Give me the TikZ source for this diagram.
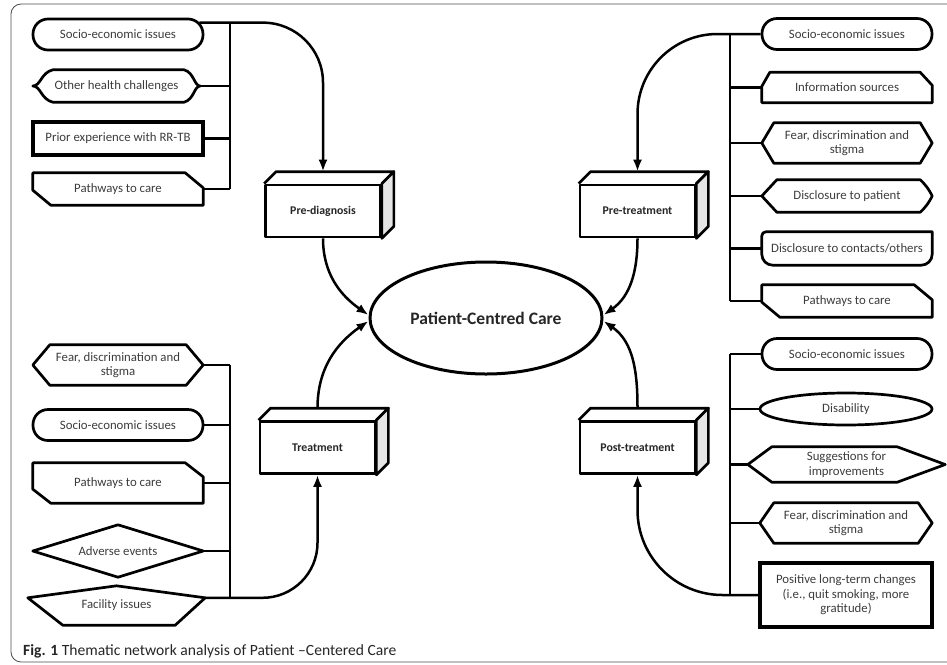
\documentclass[tikz,border=0pt]{standalone}
\usepackage{fontspec}
\setmainfont{Carlito}
\usetikzlibrary{calc,shapes.geometric,arrows.meta}

\definecolor{txtc}{HTML}{3C3C3C}
\pgfdeclareradialshading{glow}{\pgfpoint{0bp}{0bp}}{color(0bp)=(white); color(38bp)=(white); color(50bp)=(gray!70)}

% outlines drawn round plain label nodes
\newcommand{\hexout}[3]{\draw[box] (#1.west) -- ($(#1.north west)+(#2,0)$) -- ($(#1.north east)+(-#3,0)$) -- (#1.east) -- ($(#1.south east)+(-#3,0)$) -- ($(#1.south west)+(#2,0)$) -- cycle;}
\newcommand{\cutout}[3]{\draw[box] (#1.north west) -- ($(#1.north east)+(-#2,0)$) -- ($(#1.north east)+(0,#3)$) -- (#1.south east) -- ($(#1.south west)+(#2,0)$) -- ($(#1.south west)+(0,-#3)$) -- cycle;}
\newcommand{\depth}[1]{%
  \draw[box] (#1.north west) -- ++(12,-12) -- ($(#1.north east)+(12,-12)$) -- (#1.north east);
  \draw[box, fill=gray!20] (#1.north east) -- ++(12,-12) -- ($(#1.south east)+(12,-12)$) -- (#1.south east) -- cycle;}

\begin{document}
\begin{tikzpicture}[x=1pt, y=-1pt,
    box/.style={draw=black, line width=2.7pt, line join=round},
    conn/.style={line width=2.5pt},
    arr/.style={conn, -{Latex[length=12pt,width=9pt]}},
    lbl/.style={minimum width=170, minimum height=32, inner sep=0pt, align=center,
      text=txtc, font=\fontsize{12.8}{14.5}\selectfont},
    stadium/.style={box, rounded corners=15pt, minimum height=31},
    thickbox/.style={draw=black, line width=3.4pt},
    stage/.style={box, fill=white, minimum width=115, minimum height=52, inner sep=0pt,
      text=black!85, font=\bfseries\fontsize{11.8}{13}\selectfont},
    core/.style={ellipse, draw=black, line width=3pt, shade, shading=glow,
      minimum width=232, minimum height=112, text=black!85,
      font=\bfseries\fontsize{17.5}{20}\selectfont}]
  \useasboundingbox (0,0) rectangle (947,664);
  \clip (0,0) rectangle (947,664);
  \draw[draw=black!70, line width=0.8pt, rounded corners=10pt] (11,4) rectangle (965,662);

  \coordinate (busL) at (230,0);
  \coordinate (busR) at (730,0);

  % centre
  \node[core] (pcc) at (486,318) {Patient-Centred Care};

  % pre-diagnosis
  \node[lbl, stadium] (lsoc) at (118,34.5) {Socio-economic issues};
  \node[lbl, minimum width=167] (lhea) at (116.5,86) {Other health challenges};
  \node[lbl, thickbox, minimum height=33] (lpri) at (118,138.5) {Prior experience with RR-TB};
  \node[lbl] (lpa1) at (118,189) {Pathways to care};
  \node[stage] (pre) at (323,211) {Pre-diagnosis};
  \depth{pre}
  \draw[box] ($(lhea.north west)+(20,0)$) -- ($(lhea.north east)+(-16,0)$)
    .. controls ($(lhea.north east)+(-6,3)$) and ($(lhea.east)+(-6,0)$) .. (lhea.east)
    .. controls ($(lhea.east)+(-6,0)$) and ($(lhea.south east)+(-6,-3)$) .. ($(lhea.south east)+(-16,0)$)
    -- ($(lhea.south west)+(20,0)$)
    .. controls ($(lhea.south west)+(8,-3)$) and ($(lhea.west)+(8,0)$) .. (lhea.west)
    .. controls ($(lhea.west)+(8,0)$) and ($(lhea.north west)+(8,3)$) .. ($(lhea.north west)+(20,0)$) -- cycle;
  \cutout{lpa1}{18}{15}
  \coordinate (lsocR) at ($(lsoc.north east)+(-5,5)$);
  \coordinate (pretop) at ($(pre.north)+(0,-12)$);
  \draw[conn] (lsocR -| busL) -- (lpa1.east -| busL);
  \draw[conn] (lhea.east) -- (lhea.east -| busL);
  \draw[conn] (lpri.east) -- (lpri.east -| busL);
  \draw[conn] (lpa1.east) -- (lpa1.east -| busL);
  \draw[arr, rounded corners=60pt] (lsocR) -| (pretop);
  \draw[arr] (pre.south) to[out=-90,in=145] ($(pcc.west)+(0,-3)$);

  % treatment
  \node[lbl, minimum height=40] (lfea) at (118,365) {Fear, discrimination and\\stigma};
  \node[lbl, stadium] (lsoc2) at (118,425) {Socio-economic issues};
  \node[lbl, minimum height=40] (lpa2) at (118,483) {Pathways to care};
  \node[lbl, minimum height=52] (lade) at (118,551) {Adverse events};
  \node[lbl, minimum width=177, minimum height=39] (lfac) at (116.5,605.5) {Facility issues};
  \node[stage] (trt) at (317.5,447.5) {Treatment};
  \depth{trt}
  \hexout{lfea}{17}{17}
  \cutout{lpa2}{18}{14}
  \draw[box] (lade.west) -- (lade.north) -- (lade.east) -- (lade.south) -- cycle;
  \draw[box] (lfac.north) -- ($(lfac.north east)+(0,12)$) -- ($(lfac.south east)+(-30,0)$)
    -- ($(lfac.south west)+(35,0)$) -- ($(lfac.north west)+(0,12)$) -- cycle;
  \coordinate (lfacR) at ($(lfac.north east)+(0,12)$);
  \coordinate (trttop) at ($(trt.north)+(0,-12)$);
  \draw[conn] (lfea.east -| busL) -- (lfacR -| busL);
  \draw[conn] (lfea.east) -- (lfea.east -| busL);
  \draw[conn] (lsoc2.east) -- (lsoc2.east -| busL);
  \draw[conn] (lpa2.east) -- (lpa2.east -| busL);
  \draw[conn] (lade.east) -- (lade.east -| busL);
  \draw[arr, rounded corners=55pt] (lfacR) -| (trt.south);
  \draw[arr] (trttop) to[out=90,in=-145] ($(pcc.west)+(0,3)$);

  % pre-treatment
  \node[lbl, stadium] (rsoc) at (847,34) {Socio-economic issues};
  \node[lbl, minimum height=30] (rinf) at (847,87.5) {Information sources};
  \node[lbl, minimum height=40] (rfea) at (847,143) {Fear, discrimination and\\stigma};
  \node[lbl] (rdpa) at (847,196) {Disclosure to patient};
  \node[lbl, minimum height=33] (rdco) at (847,248.5) {Disclosure to contacts/others};
  \node[lbl] (rpat) at (847,301) {Pathways to care};
  \node[stage] (ptr) at (637.5,211) {Pre-treatment};
  \depth{ptr}
  \draw[box] ($(rinf.north west)+(8,0)$) -- ($(rinf.north east)+(-12,0)$) -- ($(rinf.north east)+(0,13)$)
    -- (rinf.south east) -- (rinf.south west) -- ($(rinf.north west)+(0,14)$) -- cycle;
  \hexout{rfea}{12}{12}
  \draw[box] (rdpa.west) -- ($(rdpa.north west)+(15,0)$) -- ($(rdpa.north east)+(-12,0)$)
    to[bend left=10] (rdpa.east) to[bend left=10] ($(rdpa.south east)+(-12,0)$)
    -- ($(rdpa.south west)+(15,0)$) -- cycle;
  \draw[box] (rdco.north east) -- ($(rdco.south east)+(0,-11)$) to[out=-90,in=0] ($(rdco.south east)+(-11,0)$)
    -- ($(rdco.south west)+(11,0)$) to[out=180,in=-90] ($(rdco.south west)+(0,-11)$)
    -- ($(rdco.north west)+(0,4)$) to[out=90,in=180] ($(rdco.north west)+(4,0)$) -- cycle;
  \cutout{rpat}{18}{15}
  \coordinate (ptrtop) at ($(ptr.north)+(0,-12)$);
  \draw[conn] (rsoc.west -| busR) -- (rpat.west -| busR);
  \draw[conn] (rinf.west) -- (rinf.west -| busR);
  \draw[conn] (rfea.west) -- (rfea.west -| busR);
  \draw[conn] (rdpa.west) -- (rdpa.west -| busR);
  \draw[conn] (rdco.west) -- (rdco.west -| busR);
  \draw[conn] (rpat.west) -- (rpat.west -| busR);
  \draw[arr, rounded corners=80pt] (rsoc.west) -| (ptrtop);
  \draw[arr] (ptr.south) to[out=-90,in=35] ($(pcc.east)+(0,-3)$);

  % post-treatment
  \node[lbl, stadium] (rsoc2) at (847,354) {Socio-economic issues};
  \node[lbl, ellipse, box, minimum width=172] (rdis) at (846,409) {Disability};
  \node[lbl, minimum width=197, minimum height=35] (rsug) at (846.5,464.5) {Suggestions for\\improvements};
  \node[lbl, minimum height=40, minimum width=172] (rfea2) at (846,523) {Fear, discrimination and\\stigma};
  \node[lbl, thickbox, minimum width=172, minimum height=64] (rpos) at (846,595)
    {Positive long-term changes\\(i.e., quit smoking, more\\gratitude)};
  \node[stage] (pst) at (637.5,447.5) {Post-treatment};
  \depth{pst}
  \hexout{rsug}{24}{48}
  \hexout{rfea2}{14}{14}
  \coordinate (psttop) at ($(pst.north)+(0,-12)$);
  \draw[conn] (rsoc2.west -| busR) -- (rpos.west -| busR);
  \draw[conn] (rsoc2.west) -- (rsoc2.west -| busR);
  \draw[conn] (rdis.west) -- (rdis.west -| busR);
  \draw[conn] (rsug.west) -- (rsug.west -| busR);
  \draw[conn] (rfea2.west) -- (rfea2.west -| busR);
  \draw[arr, rounded corners=85pt] (rpos.west) -| (pst.south);
  \draw[arr] (psttop) to[out=90,in=-35] ($(pcc.east)+(0,3)$);

  % caption
  \node[anchor=base west, inner sep=0pt, text=black!85, font=\fontsize{15.6}{17}\selectfont] (cap) at (23,655)
    {\textbf{Fig. 1} Thematic network analysis of Patient –Centered Care};
\end{tikzpicture}
\end{document}
